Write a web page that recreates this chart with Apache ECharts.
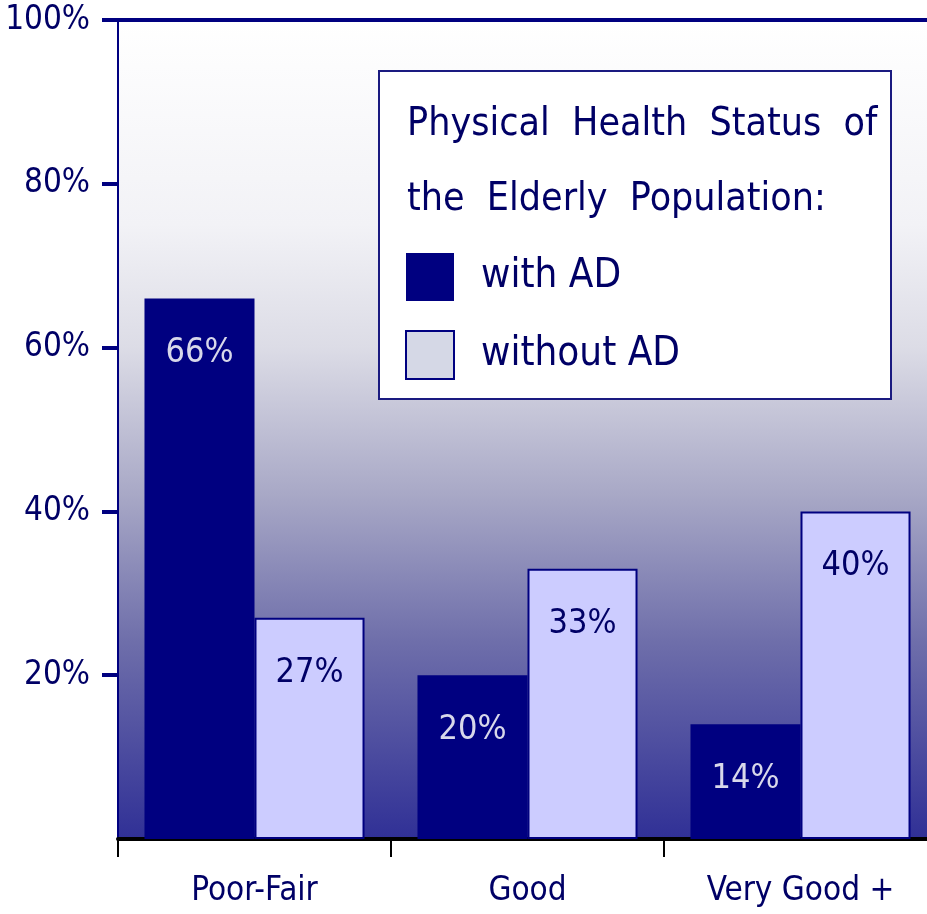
<!DOCTYPE html>
<html>
<head>
<meta charset="utf-8">
<script src="https://cdn.jsdelivr.net/npm/echarts@6/dist/echarts.min.js"></script>
<style>
	html, body { margin: 0; padding: 0; background: #fff; }
	#chart-body { width: 927px; height: 914px; }
</style>
</head>
<body>
<div id="chart-body"></div>
<script>
var categories = ['Poor-Fair', 'Good', 'Very Good +'];
var withAD = [66, 20, 14];
var withoutAD = [27, 33, 40];
var seriesNames = ['with AD', 'without AD'];
var legendTitle = 'Physical  Health  Status  of\nthe  Elderly  Population:';

var FONT = "'DejaVu Sans Condensed', 'Liberation Sans Narrow', sans-serif";
var NAVY = '#000080';
var TEXT = '#000066';

var option = {
	animation: false,
	title: {
		text: legendTitle,
		left: 402,
		top: 82,
		z: 12,
		textStyle: {
			fontFamily: FONT,
			fontSize: 39,
			fontWeight: 'normal',
			lineHeight: 75,
			color: TEXT
		}
	},
	legend: {
		orient: 'vertical',
		left: 405,
		top: 253,
		z: 12,
		padding: 0,
		itemWidth: 48,
		itemHeight: 48,
		itemGap: 29,
		icon: 'rect',
		textStyle: {
			fontFamily: FONT,
			fontSize: 40,
			color: TEXT,
			padding: [0, 0, 0, 22]
		},
		data: [
			{name: seriesNames[0], itemStyle: {color: NAVY}},
			{name: seriesNames[1], itemStyle: {color: '#d5d8e6', borderColor: NAVY, borderWidth: 2}}
		]
	},
	graphic: [{
		type: 'rect',
		z: 10,
		shape: {x: 379, y: 71, width: 512, height: 328},
		style: {fill: '#ffffff', stroke: '#1a1a80', lineWidth: 2}
	}],
	grid: {
		left: 118,
		top: 20,
		width: 819,
		height: 819,
		outerBoundsMode: 'none',
		containLabel: false,
		show: true,
		borderWidth: 0,
		backgroundColor: {
			type: 'linear', x: 0, y: 0, x2: 0, y2: 1,
			colorStops: [
				{offset: 0, color: '#ffffff'},
				{offset: 0.25, color: '#f2f2f6'},
				{offset: 0.4, color: '#dcdce6'},
				{offset: 0.58, color: '#a8a8c6'},
				{offset: 0.76, color: '#6e6eaa'},
				{offset: 1, color: '#303096'}
			]
		}
	},
	xAxis: [{
		type: 'category',
		data: categories,
		axisLine: {lineStyle: {color: '#000000', width: 4}},
		axisTick: {show: true, alignWithLabel: false, interval: 0, length: 18, lineStyle: {color: '#000000', width: 2}},
		axisLabel: {
			interval: 0,
			margin: 36,
			fontFamily: FONT,
			fontSize: 33,
			color: TEXT
		}
	}, {
		type: 'category',
		position: 'top',
		data: categories,
		axisLine: {lineStyle: {color: NAVY, width: 4}},
		axisTick: {show: false},
		axisLabel: {show: false}
	}],
	yAxis: {
		type: 'value',
		min: 0,
		max: 100,
		interval: 20,
		splitLine: {show: false},
		axisLine: {show: true, lineStyle: {color: NAVY, width: 2}},
		axisTick: {show: true, length: 16, lineStyle: {color: NAVY, width: 4}},
		axisLabel: {
			showMinLabel: false,
			margin: 28,
			formatter: '{value}%',
			fontFamily: FONT,
			fontSize: 33,
			color: TEXT
		}
	},
	series: [{
		name: seriesNames[0],
		type: 'bar',
		data: withAD,
		barGap: '0%',
		barCategoryGap: '19.4%',
		itemStyle: {color: NAVY},
		label: {
			show: true,
			position: 'insideTop',
			distance: 38,
			formatter: '{c}%',
			fontFamily: FONT,
			fontSize: 34,
			color: '#d8d8ea'
		}
	}, {
		name: seriesNames[1],
		type: 'bar',
		data: withoutAD,
		itemStyle: {color: '#ccccff', borderColor: NAVY, borderWidth: 2},
		label: {
			show: true,
			position: 'insideTop',
			distance: 38,
			formatter: '{c}%',
			fontFamily: FONT,
			fontSize: 34,
			color: TEXT
		}
	}]
};

var myChart = echarts.init(document.getElementById('chart-body'));
myChart.setOption(option);
</script>
</body>
</html>
